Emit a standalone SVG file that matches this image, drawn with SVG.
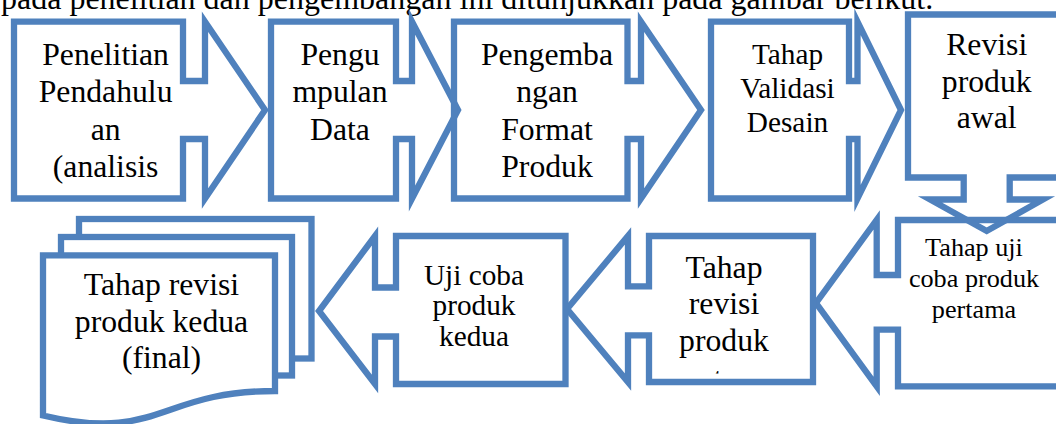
<svg xmlns="http://www.w3.org/2000/svg" width="1056" height="424" viewBox="0 0 1056 424">
  <style>
    .callout{fill:none;stroke:#4F81BD;stroke-width:6.3;stroke-linejoin:miter;stroke-miterlimit:10}
    .doc{fill:#fff;stroke:#4F81BD;stroke-width:6.3;stroke-linejoin:miter;stroke-miterlimit:10}
    text{font-family:"Liberation Serif","Times New Roman",serif;fill:#000}
    .c{text-anchor:middle}
    .f32{font-size:31.7px}
    .f29{font-size:29.3px}
    .f26{font-size:26.2px}
  </style>
  <defs>
    <!-- text frame of the "Tahap revisi produk" box; the last line overflows it -->
    <clipPath id="clip-revisi">
      <rect x="649" y="236" width="164" height="137.5"/>
    </clipPath>
  </defs>
  <rect width="1056" height="424" fill="#fff"/>

  <!-- running text line above the figure -->
  <text x="1" y="8.5" style="font-size:32px">pada penelitian dan pengembangan ini ditunjukkan pada gambar berikut.</text>

  <!-- top row: right arrow callouts -->
  <g id="penelitian-pendahuluan">
    <path class="callout" d="M14,21.7 H183 V81 H205 V21.7 L265,110 L205,198.5 V139 H183 V198.5 H14 Z"/>
    <text class="c f32" x="105.6" y="64.5">Penelitian</text>
    <text class="c f32" x="105.6" y="102">Pendahulu</text>
    <text class="c f32" x="105.6" y="139.5">an</text>
    <text class="c f32" x="105.6" y="177">(analisis</text>
  </g>

  <g id="pengumpulan-data">
    <path class="callout" d="M271,21.7 H396 V81 H412 V21.7 L458,110 L412,198.5 V139 H396 V198.5 H271 Z"/>
    <text class="c f32" x="340" y="64.5">Pengu</text>
    <text class="c f32" x="340" y="102">mpulan</text>
    <text class="c f32" x="340" y="139.5">Data</text>
  </g>

  <g id="pengembangan-format">
    <path class="callout" d="M454,21.7 H627.5 V81 H641 V21.7 L701,110 L641,198.5 V139 H627.5 V198.5 H454 Z"/>
    <text class="c f32" x="547" y="64.5">Pengemba</text>
    <text class="c f32" x="547" y="102">ngan</text>
    <text class="c f32" x="547" y="139.5">Format</text>
    <text class="c f32" x="547" y="177">Produk</text>
  </g>

  <g id="validasi-desain">
    <path class="callout" d="M711,21.7 H849 V81 H857.5 V21.7 L901,110 L857.5,198.5 V139 H849 V198.5 H711 Z"/>
    <text class="c f29" x="787.5" y="63.5">Tahap</text>
    <text class="c f29" x="787.5" y="97.5">Validasi</text>
    <text class="c f29" x="787.5" y="131.5">Desain</text>
  </g>

  <!-- bottom row: left arrow callouts, drawn right to left -->
  <g id="uji-coba-pertama">
    <path class="callout" d="M1070,220 H898 V275 H876.7 V220 L816,303 L876.7,386.3 V329.7 H898 V386.3 H1070 Z"/>
    <text class="c f26" x="974" y="256">Tahap uji</text>
    <text class="c f26" x="974" y="287">coba produk</text>
    <text class="c f26" x="974" y="318">pertama</text>
  </g>

  <!-- down arrow callout turning the flow into the second row -->
  <g id="revisi-produk-awal">
    <path class="callout" d="M908,14.5 H1070 V177.5 H1009.7 V199.5 H1043 L986.7,231 L930,199.5 H963.7 V177.5 H908 Z"/>
    <text class="c f32" x="986.7" y="55">Revisi</text>
    <text class="c f32" x="986.7" y="91.7">produk</text>
    <text class="c f32" x="986.7" y="128.3">awal</text>
  </g>

  <g id="revisi-produk-pertama">
    <path class="callout" d="M813,236 H649 V286.3 H628 V236 L567,309 L628,382 V335.3 H649 V382 H813 Z"/>
    <g clip-path="url(#clip-revisi)">
      <text class="c f32" x="724" y="277.7">Tahap</text>
      <text class="c f32" x="724" y="314.3">revisi</text>
      <text class="c f32" x="724" y="351">produk</text>
      <text class="c f32" x="724" y="388.5">pertama</text>
    </g>
  </g>

  <g id="uji-coba-kedua">
    <path class="callout" d="M565.5,236 H396 V287.5 H375 V236 L319,311 L375,384 V336.5 H396 V384 H565.5 Z"/>
    <text class="c f29" x="474" y="284.5">Uji coba</text>
    <text class="c f29" x="474" y="315">produk</text>
    <text class="c f29" x="474" y="346">kedua</text>
  </g>

  <!-- multi-document shape: two sheets behind a wavy-bottom front sheet -->
  <g id="revisi-produk-kedua-final">
    <rect class="doc" x="79" y="219" width="232.5" height="139.5"/>
    <rect class="doc" x="61" y="237" width="231" height="138.5"/>
    <path class="doc" d="M43,255.3 H275 V391 C159,391 159,443 43,415.5 Z"/>
    <text class="c f32" x="161.5" y="294.7">Tahap revisi</text>
    <text class="c f32" x="161.5" y="331.8">produk kedua</text>
    <text class="c f32" x="161.5" y="367.5">(final)</text>
  </g>

  <g id="connectors"/>
</svg>
